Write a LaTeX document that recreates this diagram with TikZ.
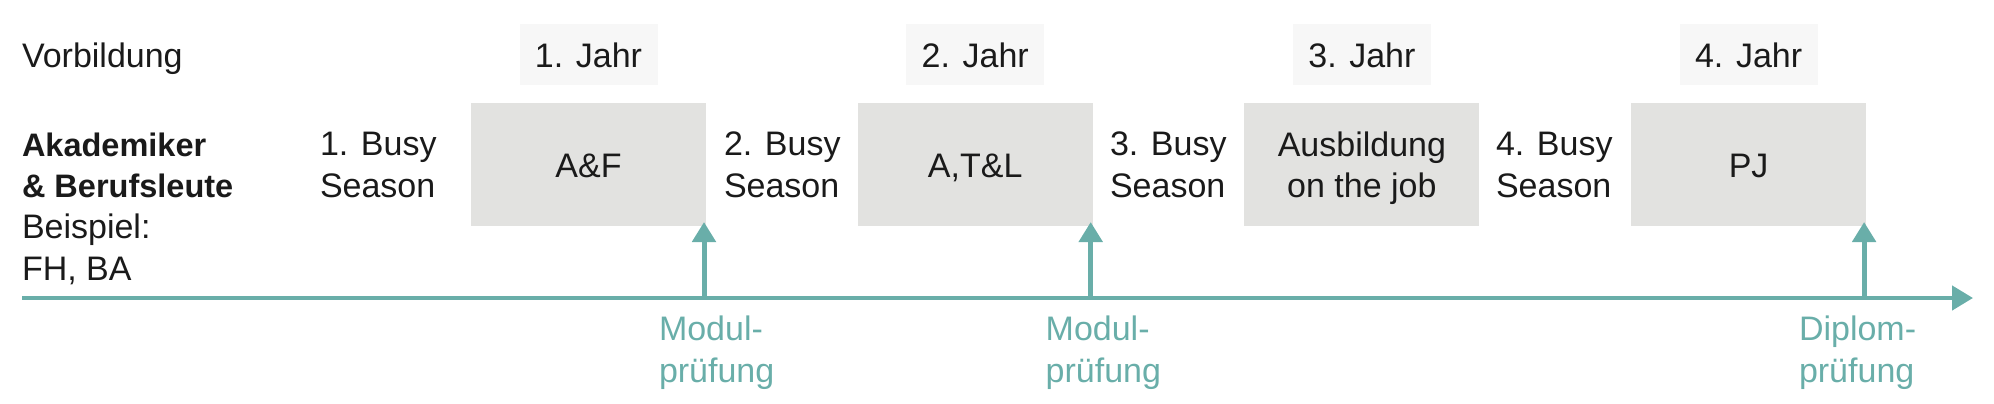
\documentclass[tikz,border=0pt]{standalone}
\usepackage{fontspec}
\setmainfont{Liberation Sans}
\usetikzlibrary{arrows.meta}
\definecolor{teal1}{RGB}{105,174,169}
\definecolor{boxgray}{RGB}{226,226,224}
\definecolor{yeargray}{RGB}{247,247,247}
\definecolor{ink}{RGB}{26,26,26}
\begin{document}
\begin{tikzpicture}[x=1pt,y=-1pt,
  every node/.style={font=\fontsize{34}{41.3}\selectfont, text=ink, inner sep=0pt, outer sep=0pt},
  yearbox/.style={fill=yeargray, minimum width=138pt, minimum height=61pt, text height=25pt, text depth=0pt},
  stagebox/.style={fill=boxgray, minimum width=235pt, minimum height=123pt, text height=25pt, text depth=0pt},
  lbl/.style={anchor=base west, align=left},
  exam/.style={lbl, text=teal1},
  axisline/.style={draw=teal1, line width=4.5pt, -{Triangle[length=21pt,width=24pt]}},
  examarrow/.style={draw=teal1, line width=5pt, shorten >=-4pt, -{Triangle[length=20pt,width=23pt]}},
]
\useasboundingbox (0,0) rectangle (1994,404);

% year boxes
\node[yearbox] (j1) at (588.5,54.5) {1. Jahr};
\node[yearbox] (j2) at (975.2,54.5) {2. Jahr};
\node[yearbox] (j3) at (1361.9,54.5) {3. Jahr};
\node[yearbox] (j4) at (1748.6,54.5) {4. Jahr};

% stage boxes
\node[stagebox] (af) at (588.5,164.5) {A\&F};
\node[stagebox] (atl) at (975.2,164.5) {A,T\&L};
\node[stagebox, align=center, text height=66.3pt] (aoj) at (1361.9,164.5) {Ausbildung\\on the job};
\node[stagebox] (pj) at (1748.6,164.5) {PJ};

% left labels (base anchor = baseline of the last line)
\node[lbl] (vor) at (22,67) {Vorbildung};
\node[lbl] (grp) at (22,280) {{\fontsize{32.5}{41.3}\selectfont\bfseries Akademiker}\\{\fontsize{32.5}{41.3}\selectfont\bfseries \& Berufsleute}\\Beispiel:\\FH, BA};

% busy seasons
\node[lbl] (b1) at (320,197) {1. Busy\\Season};
\node[lbl] (b2) at (724,197) {2. Busy\\Season};
\node[lbl] (b3) at (1110,197) {3. Busy\\Season};
\node[lbl] (b4) at (1496,197) {4. Busy\\Season};

% exams
\node[exam] (e1) at (659,382) {Modul-\\prüfung};
\node[exam] (e2) at (1045.7,382) {Modul-\\prüfung};
\node[exam] (e3) at (1799,382) {Diplom-\\prüfung};

% axis
\coordinate (a0) at (22,298);
\coordinate (a1) at (1973,298);
\draw[axisline] (a0) -- (a1);

\coordinate (m1) at (704,298);
\coordinate (m2) at (1090.7,298);
\coordinate (m3) at (1864.1,298);
\draw[examarrow] (m1) -- (m1 |- af.south);
\draw[examarrow] (m2) -- (m2 |- atl.south);
\draw[examarrow] (m3) -- (m3 |- pj.south);
\end{tikzpicture}
\end{document}
